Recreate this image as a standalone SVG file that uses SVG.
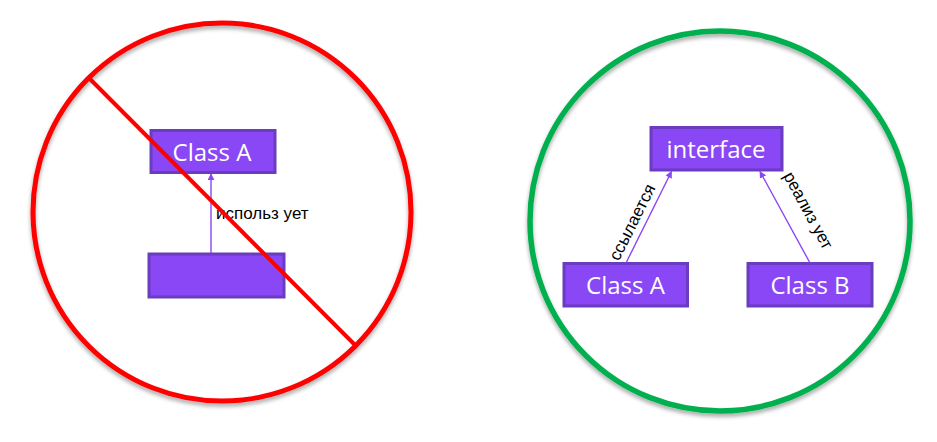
<svg xmlns="http://www.w3.org/2000/svg" width="937" height="442" viewBox="0 0 937 442">
  <defs>
    <filter id="sh" x="-10%" y="-10%" width="120%" height="125%">
      <feGaussianBlur in="SourceAlpha" stdDeviation="2"/>
      <feOffset dx="0" dy="3" result="b"/>
      <feComponentTransfer><feFuncA type="linear" slope="0.35"/></feComponentTransfer>
      <feMerge><feMergeNode/><feMergeNode in="SourceGraphic"/></feMerge>
    </filter>
    <marker id="ah" viewBox="0 0 10 10" refX="9" refY="5" markerWidth="7" markerHeight="7" markerUnits="userSpaceOnUse" orient="auto">
      <path d="M0,0 L10,5 L0,10 z" fill="#8B47F5"/>
    </marker>
  </defs>
  <style>
    .box { fill: #8A47F5; stroke: #6A3CBF; stroke-width: 3; }
    .lbl { font-family: "Open Sans", "Liberation Sans", sans-serif; font-size: 24px; fill: #FFFFFF; text-anchor: middle; dominant-baseline: central; }
    .edge { stroke: #8B47F5; stroke-width: 1.4; fill: none; marker-end: url(#ah); }
    .etxt { font-family: "Liberation Sans", Arial, sans-serif; font-size: 17px; fill: #000000; }
  </style>
  <rect width="937" height="442" fill="#FFFFFF"/>

  <g id="bad-circle" filter="url(#sh)">
    <circle cx="222" cy="212" r="189" fill="none" stroke="#FF0000" stroke-width="5"/>
  </g>
  <g id="good-circle" filter="url(#sh)">
    <circle cx="720" cy="221" r="190" fill="none" stroke="#00B050" stroke-width="5.5"/>
  </g>

  <g id="left-classA">
    <rect class="box" x="151" y="130.5" width="124" height="42"/>
    <text class="lbl" x="212" y="151">Class A</text>
  </g>
  <g id="left-empty">
    <rect class="box" x="149" y="254" width="135" height="43"/>
  </g>

  <g id="right-interface">
    <rect class="box" x="651" y="127.5" width="131" height="42.5"/>
    <text class="lbl" x="716" y="148">interface</text>
  </g>
  <g id="right-classA">
    <rect class="box" x="564" y="263.5" width="123.5" height="42.5"/>
    <text class="lbl" x="625.5" y="284">Class A</text>
  </g>
  <g id="right-classB">
    <rect class="box" x="748" y="263.5" width="124" height="42.5"/>
    <text class="lbl" x="810" y="284">Class B</text>
  </g>

  <g id="connectors">
    <line class="edge" x1="211" y1="253" x2="211" y2="174"/>
    <text class="etxt" x="216" y="219">использ ует</text>
    <line class="edge" x1="626" y1="263" x2="671.5" y2="171.5"/>
    <text class="etxt" text-anchor="middle" transform="translate(643.6,227.9) rotate(-63.4)" x="0" y="-7">ссылается</text>
    <line class="edge" x1="810" y1="263" x2="760" y2="171.5"/>
    <text class="etxt" text-anchor="middle" transform="translate(788.3,221.3) rotate(61.5)" x="0" y="-17">реализ ует</text>
  </g>

  <g id="strike">
    <line x1="90" y1="79" x2="355" y2="345" stroke="#FF0000" stroke-width="4"/>
  </g>
</svg>
